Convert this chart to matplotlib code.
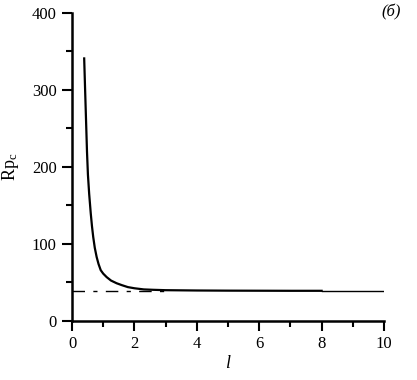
import matplotlib
matplotlib.use("Agg")
import matplotlib.pyplot as plt
from matplotlib.ticker import MultipleLocator

plt.rcParams['font.family'] = ['Liberation Serif', 'DejaVu Serif']
plt.rcParams['mathtext.fontset'] = 'custom'
plt.rcParams['mathtext.rm'] = 'Liberation Serif'
plt.rcParams['mathtext.it'] = 'Liberation Serif:italic'

# main curve
l_vals = [0.39, 0.42, 0.45, 0.48, 0.51, 0.55, 0.60, 0.64, 0.68, 0.73, 0.79,
          0.85, 0.92, 1.0, 1.11, 1.25, 1.43, 1.6, 1.79, 2.0, 2.3, 2.6,
          3.0, 4.0, 5.0, 6.0, 7.0, 8.0]
rp_vals = [341, 300, 260, 220, 190, 165, 140, 123, 109, 95, 83,
           74, 66, 61.5, 57, 52.5, 49, 46.5, 44, 42.5, 41, 40.5,
           40, 39.6, 39.4, 39.3, 39.2, 39.2]
# thin continuation
tail_l = [8.0, 10.0]
tail_rp = [39.2, 39.2]
# asymptote (dash-dot)
asym_l = [0.0, 3.0]
asym_rp = [39.2, 39.2]

fig = plt.figure(figsize=(4.17, 3.80), dpi=100)
ax = fig.add_axes([0.1727, 0.1553, 0.7482, 0.8105])

ax.plot(asym_l, asym_rp, color='black', lw=1.0, linestyle=(0, (9, 6, 3, 6)))
ax.plot(l_vals, rp_vals, color='black', lw=1.6, solid_joinstyle='round')
ax.plot(tail_l, tail_rp, color='black', lw=1.0)

ax.set_xlim(0, 10)
ax.set_ylim(0, 400)
ax.xaxis.set_major_locator(MultipleLocator(2))
ax.xaxis.set_minor_locator(MultipleLocator(1))
ax.yaxis.set_major_locator(MultipleLocator(100))
ax.yaxis.set_minor_locator(MultipleLocator(50))

for s in ['top', 'right']:
    ax.spines[s].set_visible(False)
for s in ['left', 'bottom']:
    ax.spines[s].set_linewidth(1.8)

ax.tick_params(which='major', direction='out', length=7, width=1.5,
               labelsize=12, pad=4)
ax.tick_params(which='minor', direction='out', length=4.5, width=1.5)

ax.set_xlabel(r'$\mathit{l}$', fontsize=13, labelpad=2)
ax.set_ylabel(r'$\mathrm{Rp}_\mathrm{c}$', fontsize=13, labelpad=8)

fig.text(0.937, 0.968, '(б)', fontsize=12, style='italic',
         ha='center', va='center')

fig.savefig('out.png', dpi=100)
